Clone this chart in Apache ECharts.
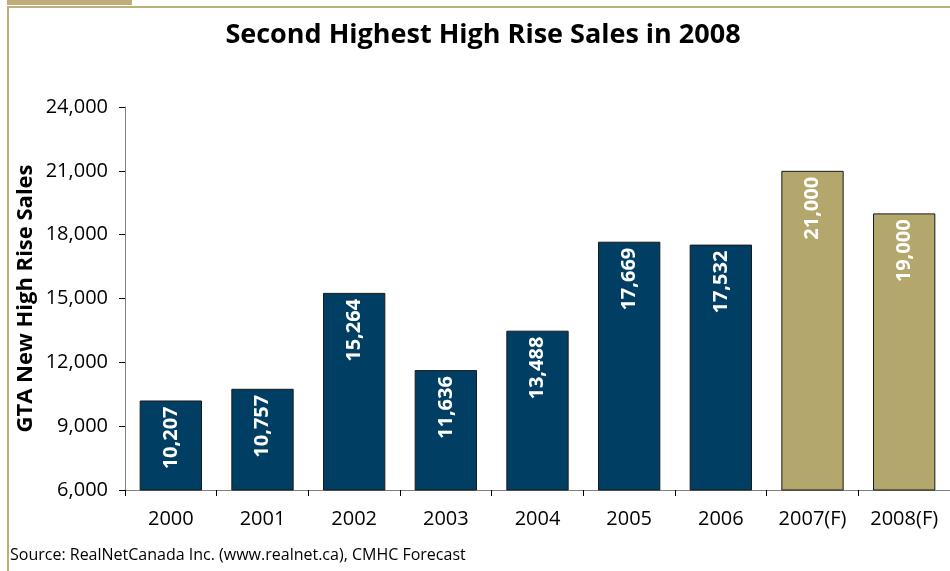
<!DOCTYPE html>
<html>
<head>
<meta charset="utf-8">
<script src="https://cdn.jsdelivr.net/npm/echarts@6/dist/echarts.min.js"></script>
<style>
  html, body { margin: 0; padding: 0; background: #fff; }
  #chart { width: 950px; height: 571px; }
</style>
</head>
<body>
<div id="chart"></div>
<script>
var years = ['2000', '2001', '2002', '2003', '2004', '2005', '2006', '2007(F)', '2008(F)'];
var sales = [10207, 10757, 15264, 11636, 13488, 17669, 17532, 21000, 19000];
var forecast = [false, false, false, false, false, false, false, true, true];

var font = '"Open Sans", Lato, sans-serif';
var myChart = echarts.init(document.getElementById('chart'));

var barData = [];
for (var i = 0; i < sales.length; i++) {
  barData.push({
    value: sales[i],
    itemStyle: { color: forecast[i] ? '#b3a76c' : '#003f63' }
  });
}

var option = {
  animation: false,
  title: {
    text: 'Second Highest High Rise Sales in 2008',
    left: 478,
    top: 17,
    textAlign: 'center',
    textStyle: { fontFamily: font, fontSize: 27, fontWeight: 'bold', color: '#000' }
  },
  graphic: [
    { type: 'rect', shape: { x: 7, y: 0, width: 125, height: 5 }, style: { fill: '#bfae7a' } },
    { type: 'line', shape: { x1: 7, y1: 7, x2: 950, y2: 7 }, style: { stroke: '#bfae7a', lineWidth: 2 } },
    { type: 'line', shape: { x1: 8, y1: 6, x2: 8, y2: 571 }, style: { stroke: '#bfae7a', lineWidth: 2 } },
    {
      type: 'text', left: 10, top: 547,
      style: { text: 'Source: RealNetCanada Inc. (www.realnet.ca), CMHC Forecast', font: '16px ' + font, fill: '#000' }
    }
  ],
  grid: { left: 125, top: 107, width: 837, height: 383 },
  xAxis: {
    type: 'category',
    data: years,
    axisLine: { lineStyle: { color: '#808080', width: 1 } },
    axisTick: { show: true, length: 6, lineStyle: { color: '#000' } },
    axisLabel: { fontFamily: font, fontSize: 20, color: '#000', margin: 19 }
  },
  yAxis: {
    type: 'value',
    min: 6000,
    max: 24000,
    interval: 3000,
    name: 'GTA New High Rise Sales',
    nameLocation: 'middle',
    nameGap: 88,
    nameMoveOverlap: false,
    nameTextStyle: { fontFamily: font, fontSize: 22, fontWeight: 'bold', color: '#000' },
    axisLine: { show: true, lineStyle: { color: '#808080', width: 1 } },
    axisTick: { show: true, length: 6, lineStyle: { color: '#000' } },
    splitLine: { show: false },
    axisLabel: {
      fontFamily: font, fontSize: 20, color: '#000', margin: 17,
      formatter: function(v) { return v.toLocaleString('en-US'); }
    }
  },
  series: [{
    type: 'bar',
    data: barData,
    barCategoryGap: '32%',
    itemStyle: { borderColor: '#1a1a1a', borderWidth: 1 },
    label: {
      show: true,
      position: 'insideTop',
      rotate: 90,
      align: 'right',
      verticalAlign: 'middle',
      distance: 6,
      fontFamily: font,
      fontSize: 20,
      fontWeight: 'bold',
      color: '#fff',
      formatter: function(p) { return p.value.toLocaleString('en-US'); }
    }
  }]
};

myChart.setOption(option);
</script>
</body>
</html>
